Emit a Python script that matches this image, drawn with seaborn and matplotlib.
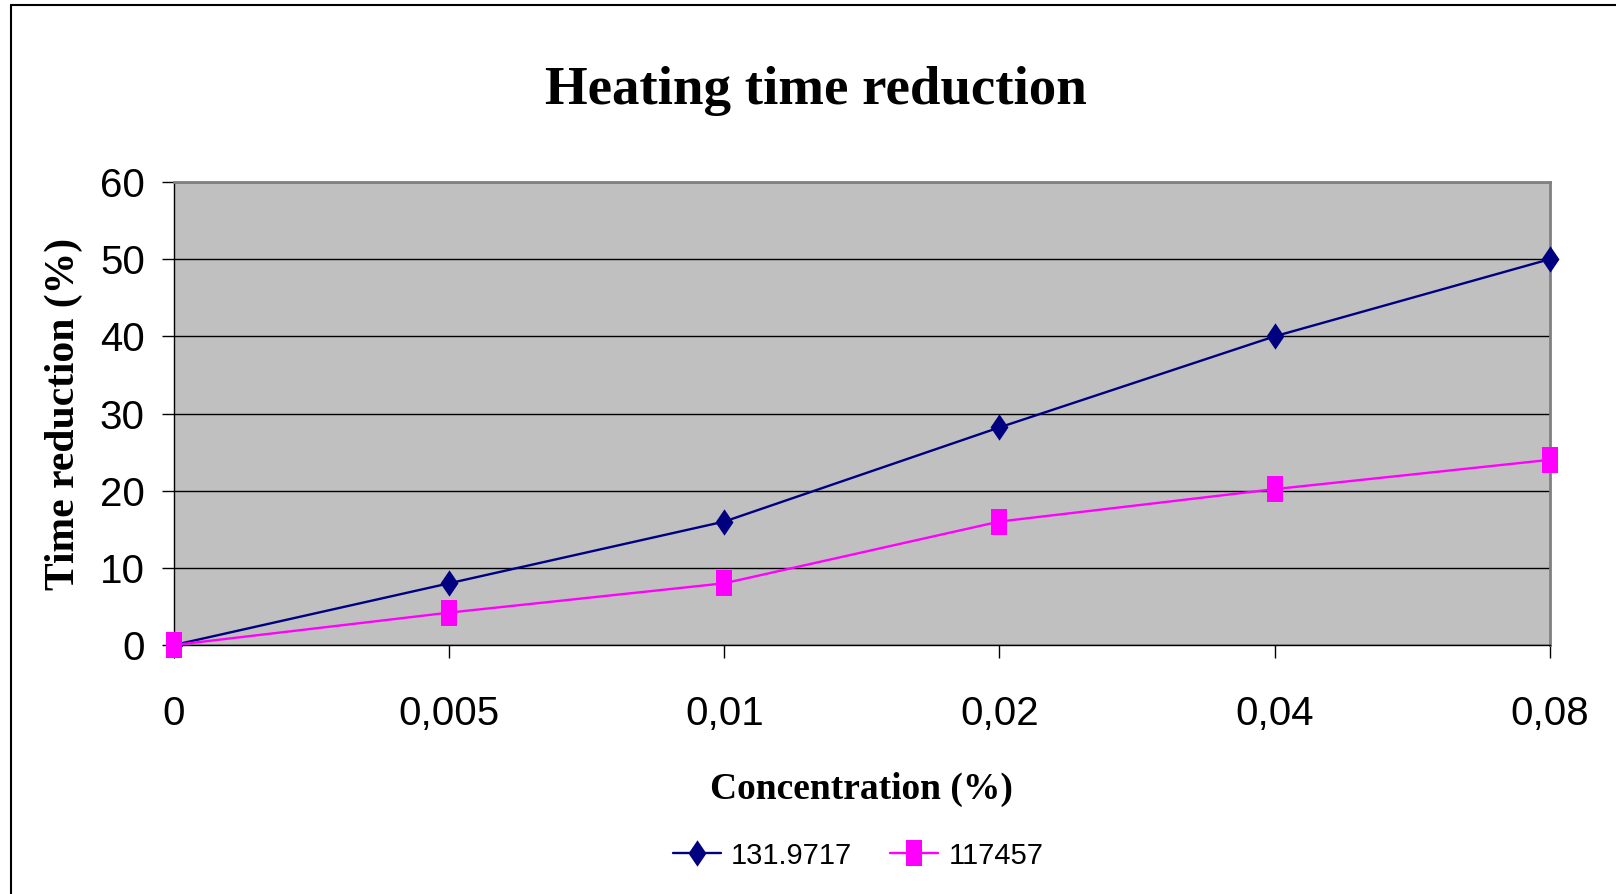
import numpy as np
import pandas as pd
import seaborn as sns
import matplotlib.pyplot as plt
from matplotlib.lines import Line2D

# data
concentration = ['0', '0,005', '0,01', '0,02', '0,04', '0,08']
series_a = [0, 8, 16, 28.2, 40, 50]
series_b = [0, 4.2, 8, 16, 20.2, 24]
series_names = ['131.9717', '117457']

df = pd.DataFrame({
    'conc': concentration * 2,
    'value': series_a + series_b,
    'series': [series_names[0]] * 6 + [series_names[1]] * 6,
})
df['pos'] = df['conc'].map({c: i for i, c in enumerate(concentration)})

sns.set_style('white')
plt.rcParams['font.family'] = ['Liberation Sans', 'DejaVu Sans']
for k in ['text.color', 'axes.labelcolor', 'xtick.color', 'ytick.color']:
    plt.rcParams[k] = 'black'

fig = plt.figure(figsize=(16.16, 8.94), dpi=100)
ax = fig.add_axes([0.1077, 0.2785, 0.8513, 0.5179])
ax.set_facecolor('#C0C0C0')

# Excel-like markers: tall diamond and tall rectangle
diamond = [(0, -1), (0.68, 0), (0, 1), (-0.68, 0), (0, -1)]
rect = [(-0.64, -1), (0.64, -1), (0.64, 1), (-0.64, 1), (-0.64, -1)]
sns.lineplot(data=df, x='pos', y='value', hue='series', style='series',
             palette=['#000080', '#FF00FF'], markers=[diamond, rect],
             dashes=False, markersize=19, markeredgewidth=0,
             linewidth=1.7, ax=ax, legend=True, zorder=3, clip_on=False)

ax.set_xlim(0, 5)
ax.set_ylim(0, 60)
ax.set_yticks(range(0, 61, 10))
ax.set_xticks(range(len(concentration)))
ax.set_xticklabels(concentration)
ax.yaxis.grid(True, color='black', linewidth=1.0)
ax.set_axisbelow(True)
ax.tick_params(axis='both', direction='out', length=9, width=1, color='black',
               labelsize=29, bottom=True, left=True)
ax.tick_params(axis='x', pad=27)
ax.tick_params(axis='y', pad=12)

for s in ['top', 'right']:
    ax.spines[s].set_color('#808080')
    ax.spines[s].set_linewidth(2)
for s in ['left', 'bottom']:
    ax.spines[s].set_color('black')
    ax.spines[s].set_linewidth(1)

ax.set_xlabel('Concentration (%)', family='Liberation Serif', fontweight='bold',
              fontsize=27, labelpad=28)
ax.set_ylabel('Time reduction (%)', family='Liberation Serif', fontweight='bold',
              fontsize=30, labelpad=12)
fig.text(0.505, 0.898, 'Heating time reduction', family='Liberation Serif',
         fontweight='bold', fontsize=39.5, ha='center', va='center')

handles, labels = ax.get_legend_handles_labels()
ax.legend(handles, labels, loc='center', bbox_to_anchor=(0.531, 0.043),
          bbox_transform=fig.transFigure, ncol=2, frameon=False,
          fontsize=21, handlelength=1.65, columnspacing=1.3, handletextpad=0.35,
          numpoints=1)

# outer chart frame (top and left edges visible in reference)
fig.add_artist(Line2D([11 / 1616, 1], [1 - 5 / 894, 1 - 5 / 894], color='black', lw=1.5))
fig.add_artist(Line2D([11 / 1616, 11 / 1616], [0, 1 - 5 / 894], color='black', lw=1.5))

fig.savefig('out.png', dpi=100)
